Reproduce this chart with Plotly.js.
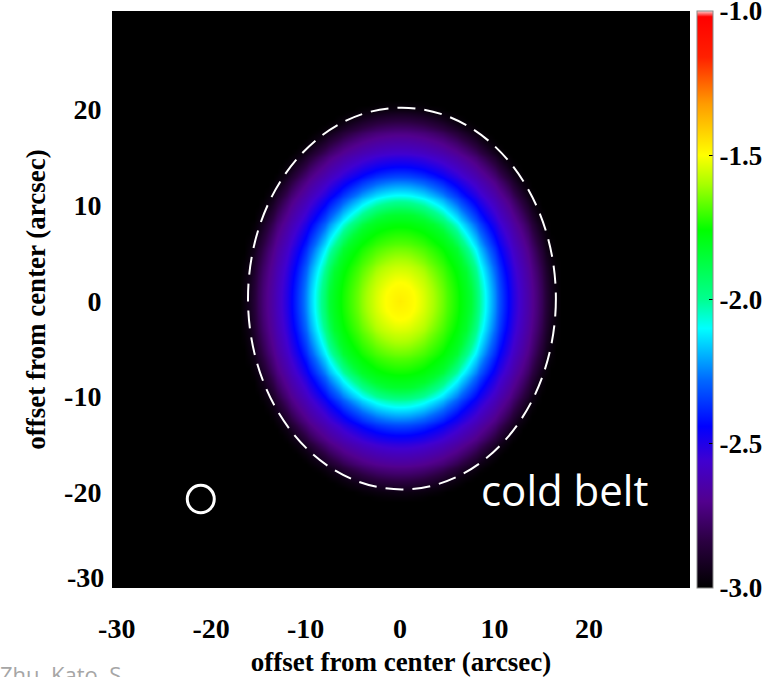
<!DOCTYPE html>
<html>
<head>
<meta charset="utf-8">
<script src="https://cdn.plot.ly/plotly-3.0.1.min.js"></script>
<style>
  html, body { margin: 0; padding: 0; background: #ffffff; overflow: hidden; }
  #chart { width: 771px; height: 677px; }
</style>
</head>
<body>
<div id="chart"></div>
<script>
// Axis ticks (hyphen-minus labels, as printed on the plot)
const xTickVals = [-30, -20, -10, 0, 10, 20];
const xTickText = ['-30', '-20', '-10', '0', '10', '20'];
const yTickVals = [-20, -10, 0, 10, 20];
const yTickText = ['-20', '-10', '0', '10', '20'];
const yBottomLabel = '-30';
const cbTickVals = [-3.0, -2.5, -2.0, -1.5, -1.0];
const cbTickText = ['-3.0', '-2.5', '-2.0', '-1.5', '-1.0'];

// Radial brightness profile (log10) against normalised elliptical radius
const profileRadius = [0.00, 0.10, 0.20, 0.30, 0.40, 0.46, 0.50, 0.55, 0.60, 0.65, 0.70, 0.75, 0.80, 0.85, 0.90, 0.95, 1.00, 1.05];
const profileValue  = [-1.47, -1.50, -1.58, -1.68, -1.77, -1.84, -1.95, -2.08, -2.20, -2.32, -2.43, -2.52, -2.60, -2.67, -2.75, -2.85, -2.95, -3.00];

// Disk geometry (arcsec)
const diskCenter = [0.0, 0.0];
const diskAxes = [16.2, 19.9];

// Dashed limb outline and beam (arcsec)
const outlineCenter = [0.2, 0.25];
const outlineAxes = [16.3, 19.95];
const beamCenter = [-21.1, -20.7];
const beamRadius = 1.43;

const bandLabel = 'cold belt';
const bandLabelPos = [17.4, -19.75];
const creditText = 'Zhu, Kato, S';

// Colour table: black - purple - blue - cyan - green - yellow - red - white
const colorTable = [
  [0.00, '#000000'],
  [0.08, '#2a0040'],
  [0.15, '#52008e'],
  [0.22, '#4000d0'],
  [0.28, '#0000ff'],
  [0.36, '#0068ff'],
  [0.45, '#00ffff'],
  [0.50, '#00ff90'],
  [0.62, '#00ff00'],
  [0.70, '#a8ff00'],
  [0.75, '#ffff00'],
  [0.84, '#ff9a00'],
  [0.92, '#ff2000'],
  [0.99, '#ff0000'],
  [1.00, '#ffd0d0']
];

// Build the image grid from the radial profile
function profileAt(r) {
  if (r >= profileRadius[profileRadius.length - 1]) return profileValue[profileValue.length - 1];
  for (let i = 1; i < profileRadius.length; i++) {
    if (r <= profileRadius[i]) {
      const t = (r - profileRadius[i - 1]) / (profileRadius[i] - profileRadius[i - 1]);
      return profileValue[i - 1] + t * (profileValue[i] - profileValue[i - 1]);
    }
  }
  return profileValue[profileValue.length - 1];
}
const gridX = [], gridY = [];
for (let v = -31; v <= 31.001; v += 0.5) { gridX.push(+v.toFixed(2)); gridY.push(+v.toFixed(2)); }
const gridZ = gridY.map(y => gridX.map(x => {
  const dx = (x - diskCenter[0]) / diskAxes[0];
  const dy = (y - diskCenter[1]) / diskAxes[1];
  return profileAt(Math.sqrt(dx * dx + dy * dy));
}));

const serifBold = { family: 'Liberation Serif, Times New Roman, serif', size: 28, color: '#000000', weight: 'bold' };

// Plot area spans 578 px of a 659 px paper width; colour bar sits 7 px right of it
const plotDomainRight = 578 / 659;
const colorbarLeft = 585 / 659;

const trace = {
  type: 'heatmap',
  x: gridX, y: gridY, z: gridZ,
  zmin: -3.0, zmax: -1.0,
  zsmooth: 'best',
  colorscale: colorTable,
  hoverinfo: 'skip',
  colorbar: {
    x: colorbarLeft, xanchor: 'left', xref: 'paper', xpad: 0,
    y: 0.5, yanchor: 'middle', len: 1, lenmode: 'fraction', ypad: 0,
    thickness: 16,
    outlinecolor: '#8a8a8a', outlinewidth: 1,
    tickmode: 'array', tickvals: cbTickVals, ticktext: cbTickText,
    ticks: 'inside', ticklen: 4, tickcolor: '#000000',
    ticklabelstandoff: 2,
    ticklabeloverflow: 'allow',
    tickfont: Object.assign({}, serifBold, { size: 27 })
  }
};

const layout = {
  width: 771, height: 677,
  margin: { l: 112, r: 0, t: 11, b: 89, pad: 0 },
  paper_bgcolor: '#ffffff',
  plot_bgcolor: '#000000',
  showlegend: false,
  xaxis: {
    domain: [0, plotDomainRight],
    range: [-30.5, 30.7],
    showgrid: false, zeroline: false,
    showline: true, mirror: true, linecolor: '#ffffff', linewidth: 1,
    tickmode: 'array', tickvals: xTickVals, ticktext: xTickText,
    ticks: '', ticklabelstandoff: 15,
    tickfont: serifBold,
    title: { text: 'offset from center (arcsec)', font: Object.assign({}, serifBold, { size: 27 }), standoff: 13 }
  },
  yaxis: {
    range: [-30.0, 30.3],
    showgrid: false, zeroline: false,
    showline: true, mirror: true, linecolor: '#ffffff', linewidth: 1,
    tickmode: 'array', tickvals: yTickVals, ticktext: yTickText,
    ticks: '', ticklabelstandoff: 4,
    tickfont: serifBold,
    title: { text: 'offset from center (arcsec)', font: Object.assign({}, serifBold, { size: 27 }), standoff: 10 }
  },
  shapes: [
    {
      type: 'circle', xref: 'x', yref: 'y',
      x0: outlineCenter[0] - outlineAxes[0], x1: outlineCenter[0] + outlineAxes[0],
      y0: outlineCenter[1] - outlineAxes[1], y1: outlineCenter[1] + outlineAxes[1],
      line: { color: '#ffffff', width: 2, dash: '18px,9px' }
    },
    {
      type: 'circle', xref: 'x', yref: 'y',
      x0: beamCenter[0] - beamRadius, x1: beamCenter[0] + beamRadius,
      y0: beamCenter[1] - beamRadius, y1: beamCenter[1] + beamRadius,
      line: { color: '#ffffff', width: 3 }
    }
  ],
  annotations: [
    {
      x: bandLabelPos[0], y: bandLabelPos[1], xref: 'x', yref: 'y',
      text: bandLabel, showarrow: false, xanchor: 'center', yanchor: 'middle',
      font: { family: 'Open Sans, sans-serif', size: 42, color: '#ffffff' }
    },
    {
      x: 0, y: -30, xref: 'paper', yref: 'y',
      text: yBottomLabel, showarrow: false, xanchor: 'right', yanchor: 'middle',
      xshift: -6, yshift: 11,
      font: serifBold
    },
    {
      x: 0, y: 0, xref: 'paper', yref: 'paper',
      text: creditText, showarrow: false, xanchor: 'left', yanchor: 'top',
      xshift: -114, yshift: -69,
      font: { family: 'Open Sans, sans-serif', size: 22, color: '#a6a6a6' }
    }
  ]
};

Plotly.newPlot('chart', [trace], layout, { displayModeBar: false, staticPlot: true });
</script>
</body>
</html>
